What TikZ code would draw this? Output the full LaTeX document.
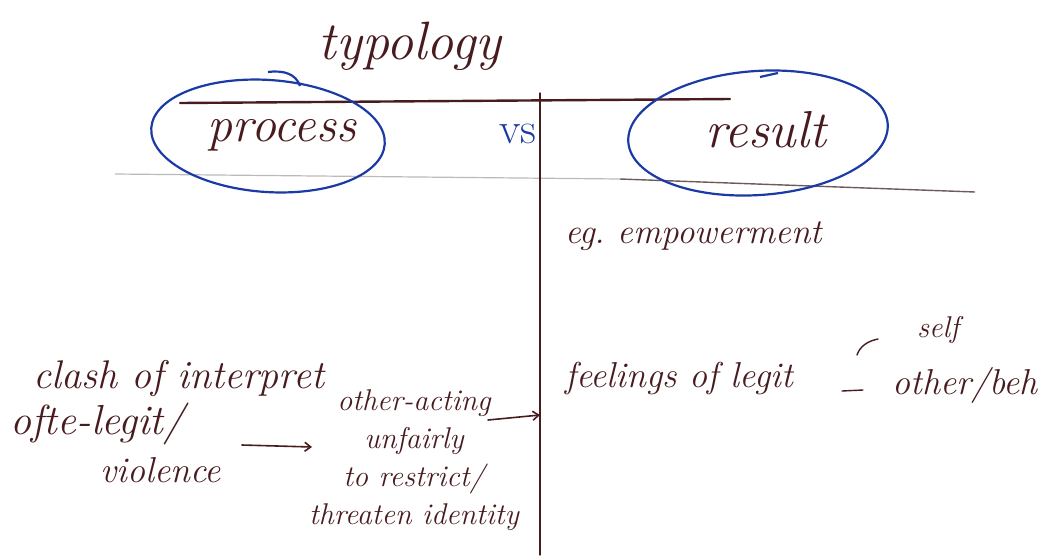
\documentclass[tikz,border=0pt]{standalone}
\usepackage{fontspec}
\usetikzlibrary{arrows.meta}
\definecolor{ink}{RGB}{72,28,30}
\definecolor{pen}{RGB}{28,58,165}
\definecolor{faint}{RGB}{190,185,185}
\definecolor{midgray}{RGB}{110,90,90}
\tikzset{
  hand/.style={font=\itshape, text=ink, inner sep=0pt},
  ring/.style={draw=pen, line width=2.2pt},
  inkline/.style={draw=ink, line width=2.4pt, line cap=round},
  thinline/.style={draw=ink, line width=1.4pt, line cap=round},
  arr/.style={draw=ink, line width=1.6pt, line cap=round, -{Straight Barb[length=6pt,width=9pt]}},
}
\begin{document}
\begin{tikzpicture}[x=1pt,y=-1pt]
\useasboundingbox (0,0) rectangle (1051,555);
% rules
\coordinate (hl1) at (180,103);
\coordinate (hl2) at (730,99);
\coordinate (vtop) at (540,93);
\coordinate (vbot) at (540,555);
\coordinate (gl1) at (115,174);
\coordinate (gl2) at (620,179);
\coordinate (gl3) at (975,192);
\draw[draw=faint, line width=1.2pt] (gl1) -- (gl2);
\draw[draw=midgray, line width=1.4pt] (gl2) -- (gl3);
\draw[inkline] (hl1) -- (hl2);
\draw[thinline] (vtop) -- (vbot);
% headings
\node[hand, font=\itshape\fontsize{54}{58}\selectfont] (typ) at (410,46) {typology};
\node[hand, font=\itshape\fontsize{50}{54}\selectfont] (proc) at (282,135) {process};
\node[hand, font=\itshape\fontsize{52}{56}\selectfont] (res) at (766,130) {result};
\node[hand, text=pen, font=\fontsize{44}{48}\selectfont] (vs) at (518,134) {vs};
% rings
\draw[ring] (268,136) ellipse [x radius=117, y radius=56, rotate=-4];
\draw[ring] (300,86) .. controls (296,74) and (284,70) .. (268,72);
\draw[ring] (758,133) ellipse [x radius=130, y radius=62, rotate=4];
\draw[ring] (760,77) -- (778,73);
% example
\node[hand, font=\itshape\fontsize{35}{40}\selectfont, anchor=west] (eg) at (565,236) {eg.\ empowerment};
% left block
\node[hand, font=\itshape\fontsize{40}{44}\selectfont, anchor=west] (clash) at (33,378) {clash of interpret};
\node[hand, font=\itshape\fontsize{42}{46}\selectfont, anchor=west] (ofte) at (10,424) {ofte-legit/};
\node[hand, font=\itshape\fontsize{36}{40}\selectfont, anchor=west] (viol) at (100,470) {violence};
% middle block
\node[hand, font=\itshape\fontsize{30}{38}\selectfont, align=center] (mid) at (414,460) {other-acting\\unfairly\\to restrict/\\threaten identity};
% right block
\node[hand, font=\itshape\fontsize{36}{40}\selectfont, anchor=west] (feel) at (565,378) {feelings of legit};
\node[hand, font=\itshape\fontsize{30}{34}\selectfont] (self) at (938,330) {self};
\node[hand, font=\itshape\fontsize{36}{40}\selectfont] (oth) at (965,385) {other/beh};
% connectors
\coordinate (a1) at (242,445);
\coordinate (a2) at (312,447);
\draw[arr] (a1) -- (a2);
\coordinate (b1) at (488,420);
\coordinate (b2) at (540,415);
\draw[arr] (b1) -- (b2);
\coordinate (s1) at (857,355);
\coordinate (s2) at (878,339);
\draw[thinline] (s1) .. controls (860,346) and (868,341) .. (s2);
\coordinate (o1) at (842,391);
\coordinate (o2) at (863,390);
\draw[thinline] (o1) -- (o2);
\end{tikzpicture}
\end{document}
